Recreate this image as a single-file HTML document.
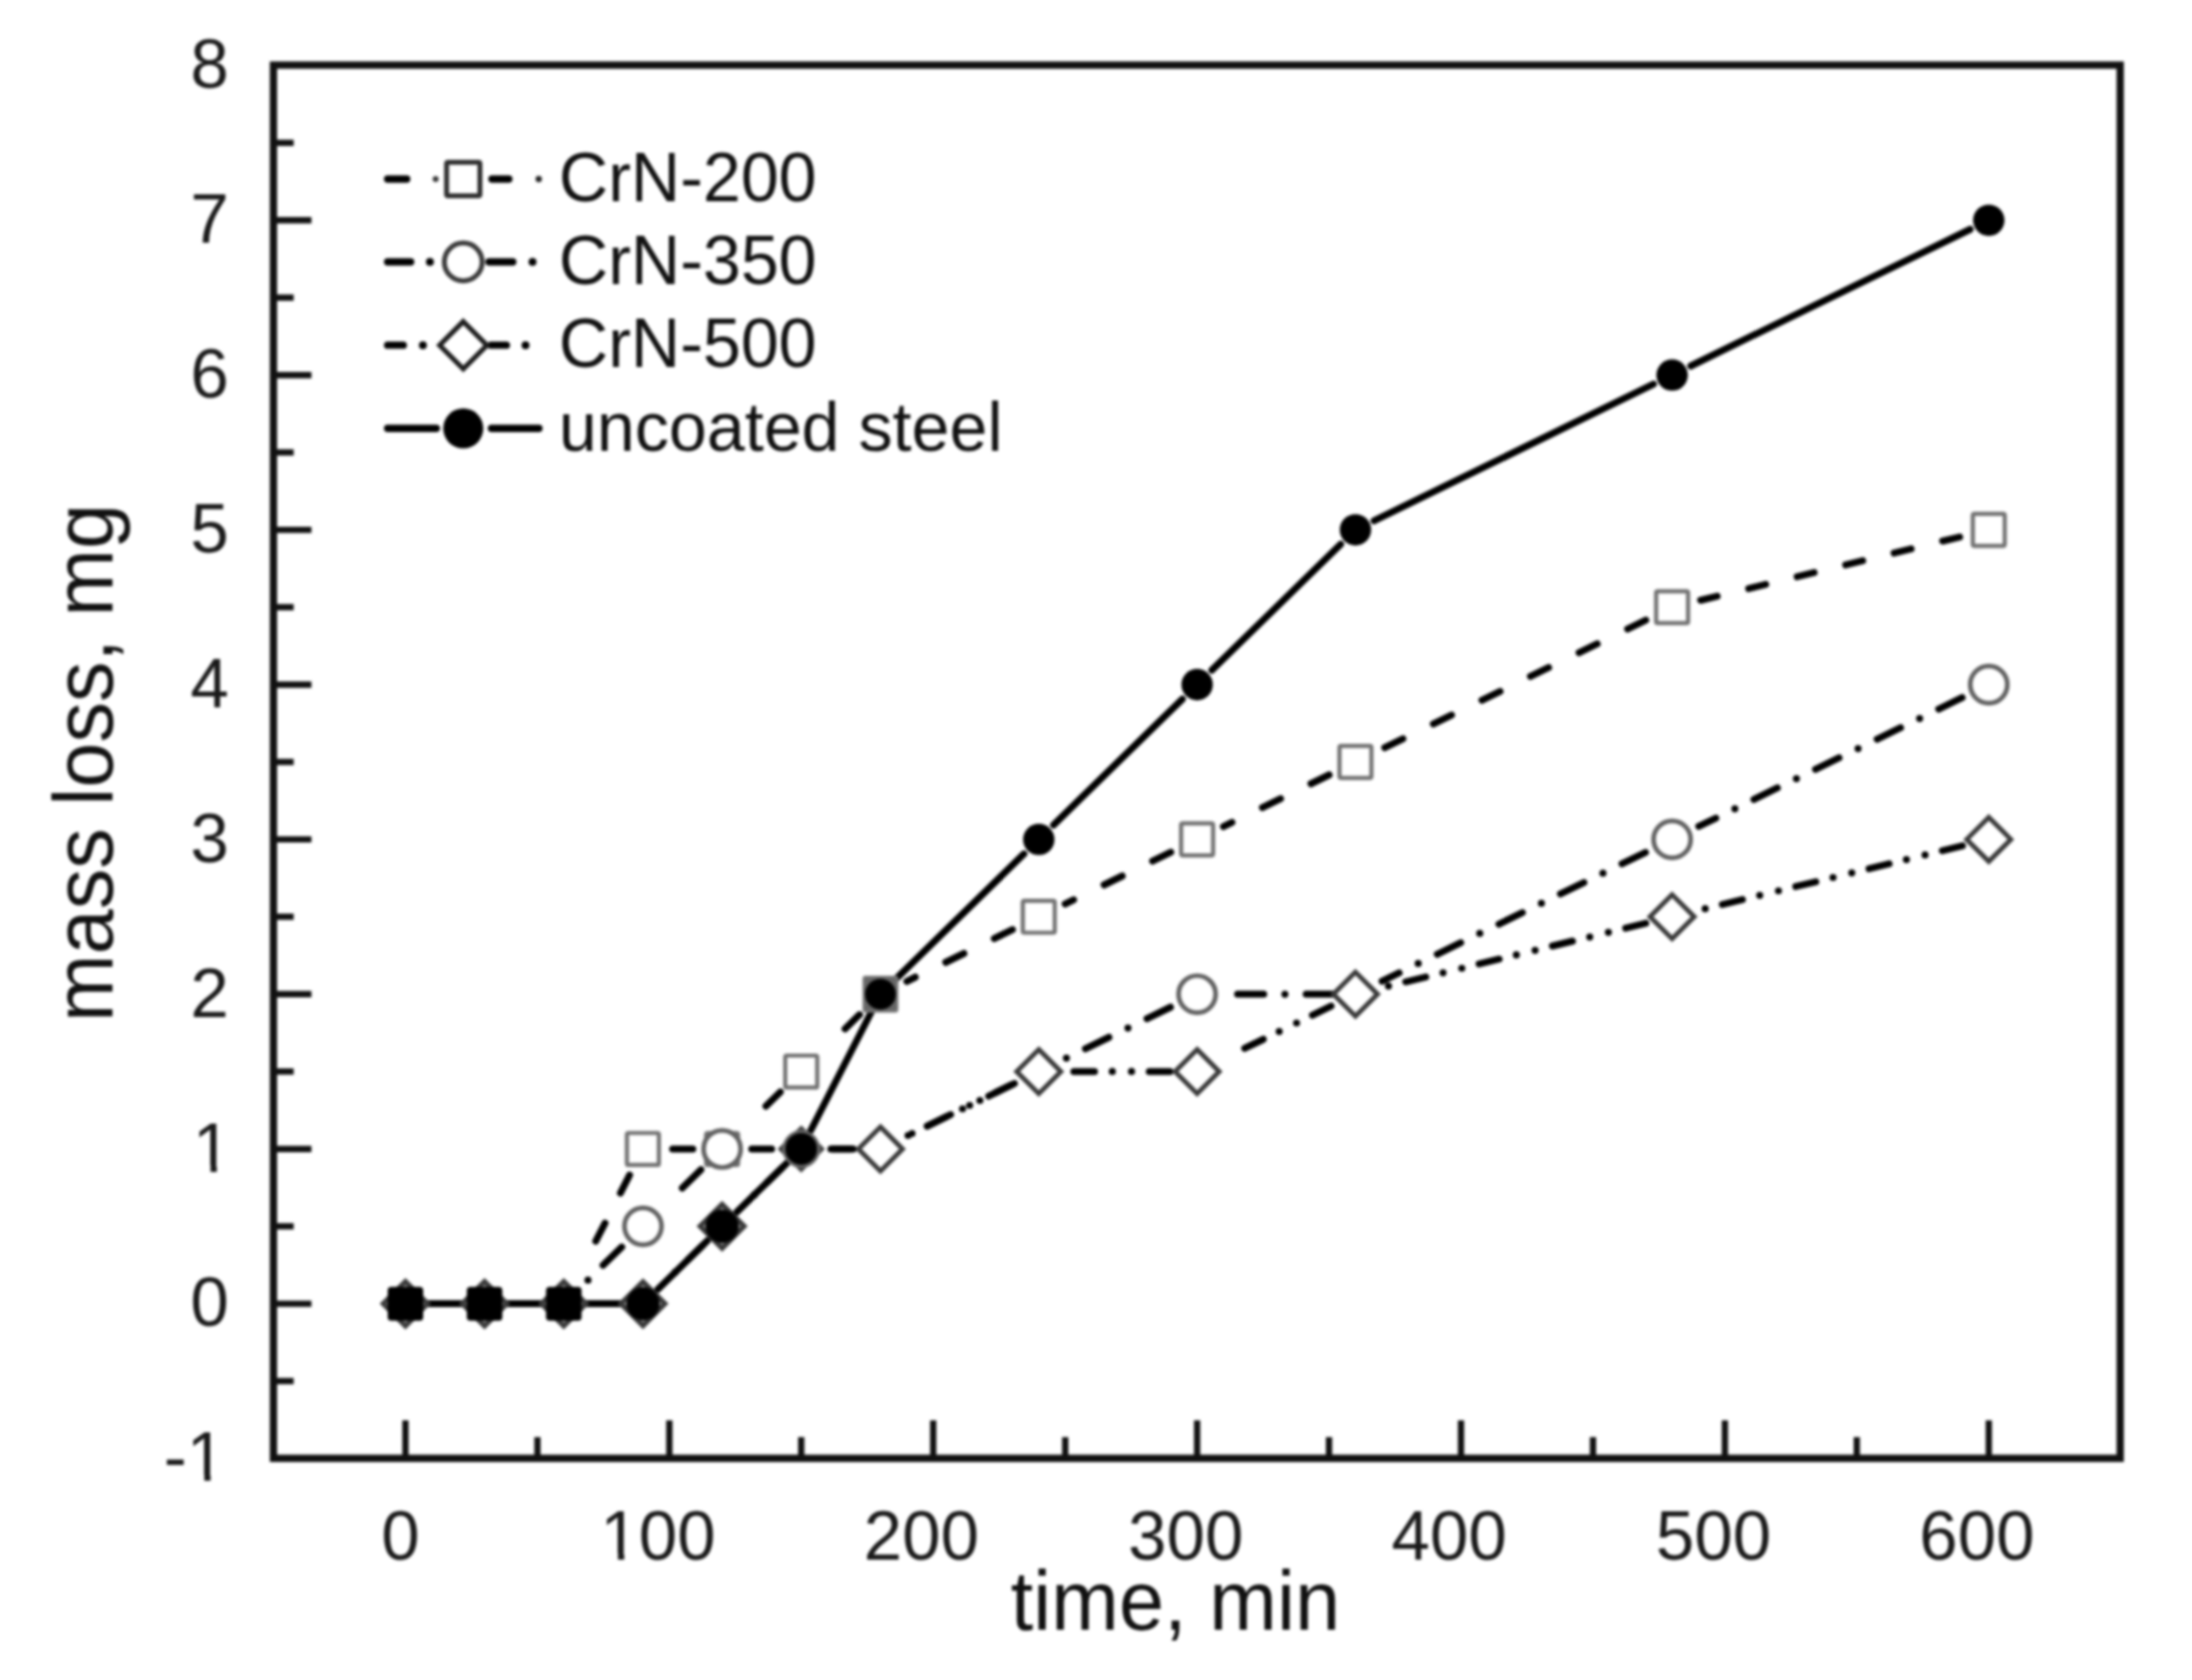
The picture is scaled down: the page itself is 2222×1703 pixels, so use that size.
<!DOCTYPE html>
<html><head><meta charset="utf-8"><title>mass loss vs time</title>
<style>html,body{margin:0;padding:0;background:#fff;overflow:hidden;} svg{display:block;filter:blur(1.4px);}</style>
</head><body>
<svg width="2222" height="1703" viewBox="0 0 2222 1703">
<rect width="2222" height="1703" fill="#fff"/>
<rect x="277.2" y="66.0" width="1872.0" height="1412.3" fill="none" stroke="#111" stroke-width="7.4"/>
<g stroke="#111" stroke-width="6.4" stroke-linecap="butt">
<line x1="277.2" y1="1321.6" x2="315.7" y2="1321.6"/>
<line x1="277.2" y1="1164.7" x2="315.7" y2="1164.7"/>
<line x1="277.2" y1="1007.8" x2="315.7" y2="1007.8"/>
<line x1="277.2" y1="850.9" x2="315.7" y2="850.9"/>
<line x1="277.2" y1="694.0" x2="315.7" y2="694.0"/>
<line x1="277.2" y1="537.1" x2="315.7" y2="537.1"/>
<line x1="277.2" y1="380.2" x2="315.7" y2="380.2"/>
<line x1="277.2" y1="223.3" x2="315.7" y2="223.3"/>
<line x1="277.2" y1="1400.0" x2="297.7" y2="1400.0"/>
<line x1="277.2" y1="1243.1" x2="297.7" y2="1243.1"/>
<line x1="277.2" y1="1086.2" x2="297.7" y2="1086.2"/>
<line x1="277.2" y1="929.3" x2="297.7" y2="929.3"/>
<line x1="277.2" y1="772.4" x2="297.7" y2="772.4"/>
<line x1="277.2" y1="615.5" x2="297.7" y2="615.5"/>
<line x1="277.2" y1="458.6" x2="297.7" y2="458.6"/>
<line x1="277.2" y1="301.7" x2="297.7" y2="301.7"/>
<line x1="277.2" y1="144.8" x2="297.7" y2="144.8"/>
<line x1="411.0" y1="1478.3" x2="411.0" y2="1439.8"/>
<line x1="678.5" y1="1478.3" x2="678.5" y2="1439.8"/>
<line x1="946.0" y1="1478.3" x2="946.0" y2="1439.8"/>
<line x1="1213.5" y1="1478.3" x2="1213.5" y2="1439.8"/>
<line x1="1481.0" y1="1478.3" x2="1481.0" y2="1439.8"/>
<line x1="1748.5" y1="1478.3" x2="1748.5" y2="1439.8"/>
<line x1="2016.0" y1="1478.3" x2="2016.0" y2="1439.8"/>
<line x1="544.8" y1="1478.3" x2="544.8" y2="1456.8"/>
<line x1="812.2" y1="1478.3" x2="812.2" y2="1456.8"/>
<line x1="1079.8" y1="1478.3" x2="1079.8" y2="1456.8"/>
<line x1="1347.2" y1="1478.3" x2="1347.2" y2="1456.8"/>
<line x1="1614.8" y1="1478.3" x2="1614.8" y2="1456.8"/>
<line x1="1882.2" y1="1478.3" x2="1882.2" y2="1456.8"/>
</g>
<g font-family="'Liberation Sans', Arial, Helvetica, sans-serif" font-size="70" fill="#1a1a1a">
<text x="232" y="1344.4" text-anchor="end">0</text>
<text x="234.5" y="1187.5" text-anchor="end">1</text>
<text x="232" y="1030.6" text-anchor="end">2</text>
<text x="232" y="873.7" text-anchor="end">3</text>
<text x="232" y="716.8" text-anchor="end">4</text>
<text x="232" y="559.9" text-anchor="end">5</text>
<text x="232" y="403.0" text-anchor="end">6</text>
<text x="232" y="246.1" text-anchor="end">7</text>
<text x="232" y="89.2" text-anchor="end">8</text>
<text x="166" y="1501.3">-1</text>
<text x="406" y="1581" text-anchor="middle">0</text>
<text x="667" y="1581" text-anchor="middle">100</text>
<text x="934" y="1581" text-anchor="middle">200</text>
<text x="1202" y="1581" text-anchor="middle">300</text>
<text x="1469" y="1581" text-anchor="middle">400</text>
<text x="1737" y="1581" text-anchor="middle">500</text>
<text x="2004" y="1581" text-anchor="middle">600</text>
</g>
<rect x="199.1" y="1181.1" width="14.3" height="7.4" fill="#fff"/><rect x="219.8" y="1181.1" width="12.5" height="7.4" fill="#fff"/>
<rect x="192.8" y="1494.9" width="14.3" height="7.4" fill="#fff"/><rect x="213.5" y="1494.9" width="12.5" height="7.4" fill="#fff"/>
<rect x="612.1" y="1574.6" width="14.3" height="7.4" fill="#fff"/><rect x="632.8" y="1574.6" width="12.5" height="7.4" fill="#fff"/>
<text font-family="'Liberation Sans', Arial, Helvetica, sans-serif" font-size="86" fill="#111" text-anchor="middle" transform="translate(1191.5,1651.5) scale(0.958,1)">time, min</text>
<text font-family="'Liberation Sans', Arial, Helvetica, sans-serif" font-size="86" fill="#111" text-anchor="middle" transform="translate(113.5,773.4) rotate(-90) scale(0.956,1)">mass loss, mg</text>
<g stroke="#000" fill="#000" stroke-width="7.0" stroke-linecap="round"><line x1="628.9" y1="1209.4" x2="638.2" y2="1191.1"/><line x1="603.9" y1="1258.2" x2="613.3" y2="1239.9"/><line x1="681.8" y1="1164.7" x2="702.3" y2="1164.7"/><line x1="776.4" y1="1121.3" x2="791.0" y2="1107.0"/><line x1="856.6" y1="1042.9" x2="871.3" y2="1028.6"/><line x1="1007.9" y1="951.4" x2="1026.3" y2="942.4"/><line x1="958.7" y1="975.5" x2="977.1" y2="966.5"/><line x1="919.2" y1="994.8" x2="927.8" y2="990.5"/><line x1="1168.4" y1="872.9" x2="1186.8" y2="863.9"/><line x1="1119.2" y1="897.0" x2="1137.6" y2="888.0"/><line x1="1079.7" y1="916.3" x2="1088.3" y2="912.1"/><line x1="1328.9" y1="794.5" x2="1347.3" y2="785.5"/><line x1="1279.7" y1="818.6" x2="1298.1" y2="809.6"/><line x1="1240.2" y1="837.9" x2="1248.8" y2="833.6"/><line x1="1649.9" y1="637.6" x2="1668.3" y2="628.6"/><line x1="1600.7" y1="661.7" x2="1619.1" y2="652.7"/><line x1="1551.4" y1="685.7" x2="1569.8" y2="676.7"/><line x1="1502.2" y1="709.8" x2="1520.6" y2="700.8"/><line x1="1453.0" y1="733.9" x2="1471.4" y2="724.9"/><line x1="1403.7" y1="757.9" x2="1422.1" y2="748.9"/><line x1="1969.2" y1="548.5" x2="1986.5" y2="544.3"/><line x1="1920.0" y1="560.6" x2="1937.3" y2="556.3"/><line x1="1870.9" y1="572.6" x2="1888.2" y2="568.3"/><line x1="1821.7" y1="584.6" x2="1839.0" y2="580.4"/><line x1="1772.6" y1="596.6" x2="1789.9" y2="592.4"/><line x1="1723.9" y1="608.5" x2="1740.7" y2="604.4"/></g>
<g stroke="#000" fill="#000" stroke-width="7.0" stroke-linecap="round"><line x1="611.3" y1="1282.6" x2="630.3" y2="1264.1"/><circle cx="596.0" cy="1297.7" r="3.6" stroke="none"/><line x1="691.6" y1="1204.2" x2="710.5" y2="1185.7"/><line x1="762.0" y1="1164.7" x2="782.2" y2="1164.7"/><line x1="842.2" y1="1164.7" x2="862.5" y2="1164.7"/><line x1="1002.2" y1="1111.1" x2="1026.0" y2="1099.4"/><circle cx="982.9" cy="1120.5" r="3.6" stroke="none"/><line x1="939.8" y1="1141.6" x2="963.6" y2="1129.9"/><circle cx="920.5" cy="1151.0" r="3.6" stroke="none"/><line x1="1162.7" y1="1032.6" x2="1186.5" y2="1021.0"/><circle cx="1143.4" cy="1042.1" r="3.6" stroke="none"/><line x1="1100.3" y1="1063.1" x2="1124.1" y2="1051.5"/><circle cx="1081.0" cy="1072.6" r="3.6" stroke="none"/><line x1="1324.0" y1="1007.8" x2="1350.5" y2="1007.8"/><circle cx="1302.5" cy="1007.8" r="3.6" stroke="none"/><line x1="1254.5" y1="1007.8" x2="1281.0" y2="1007.8"/><line x1="1644.2" y1="875.7" x2="1668.0" y2="864.1"/><circle cx="1624.9" cy="885.2" r="3.6" stroke="none"/><line x1="1581.8" y1="906.2" x2="1605.6" y2="894.6"/><circle cx="1562.5" cy="915.7" r="3.6" stroke="none"/><line x1="1519.4" y1="936.8" x2="1543.2" y2="925.1"/><circle cx="1500.0" cy="946.2" r="3.6" stroke="none"/><line x1="1456.9" y1="967.3" x2="1480.7" y2="955.6"/><circle cx="1437.6" cy="976.7" r="3.6" stroke="none"/><line x1="1401.0" y1="994.6" x2="1418.3" y2="986.2"/><line x1="1965.2" y1="718.8" x2="1989.0" y2="707.2"/><circle cx="1945.9" cy="728.3" r="3.6" stroke="none"/><line x1="1902.8" y1="749.3" x2="1926.6" y2="737.7"/><circle cx="1883.5" cy="758.8" r="3.6" stroke="none"/><line x1="1840.4" y1="779.9" x2="1864.2" y2="768.2"/><circle cx="1821.0" cy="789.3" r="3.6" stroke="none"/><line x1="1777.9" y1="810.4" x2="1801.7" y2="798.7"/><circle cx="1758.6" cy="819.8" r="3.6" stroke="none"/><line x1="1722.0" y1="837.7" x2="1739.3" y2="829.3"/></g>
<g stroke="#000" fill="#000" stroke-width="7.0" stroke-linecap="round"><line x1="697.3" y1="1277.1" x2="712.3" y2="1262.4"/><circle cx="684.4" cy="1289.6" r="3.6" stroke="none"/><line x1="777.6" y1="1198.6" x2="792.6" y2="1183.9"/><circle cx="764.7" cy="1211.2" r="3.6" stroke="none"/><line x1="844.0" y1="1164.7" x2="865.0" y2="1164.7"/><line x1="1009.4" y1="1107.5" x2="1028.3" y2="1098.3"/><circle cx="993.3" cy="1115.5" r="3.6" stroke="none"/><circle cx="975.7" cy="1124.0" r="3.6" stroke="none"/><line x1="940.7" y1="1141.1" x2="959.6" y2="1131.9"/><circle cx="924.5" cy="1149.0" r="3.6" stroke="none"/><line x1="1165.0" y1="1086.2" x2="1186.0" y2="1086.2"/><circle cx="1147.0" cy="1086.2" r="3.6" stroke="none"/><circle cx="1127.5" cy="1086.2" r="3.6" stroke="none"/><line x1="1088.5" y1="1086.2" x2="1109.5" y2="1086.2"/><line x1="1330.4" y1="1029.1" x2="1349.3" y2="1019.9"/><circle cx="1314.3" cy="1037.0" r="3.6" stroke="none"/><circle cx="1296.7" cy="1045.6" r="3.6" stroke="none"/><line x1="1261.7" y1="1062.7" x2="1280.6" y2="1053.5"/><line x1="1647.9" y1="940.9" x2="1668.3" y2="935.9"/><circle cx="1630.4" cy="945.1" r="3.6" stroke="none"/><circle cx="1611.5" cy="949.8" r="3.6" stroke="none"/><line x1="1573.6" y1="959.0" x2="1594.0" y2="954.0"/><circle cx="1556.1" cy="963.3" r="3.6" stroke="none"/><circle cx="1537.1" cy="967.9" r="3.6" stroke="none"/><line x1="1499.3" y1="977.2" x2="1519.7" y2="972.2"/><circle cx="1481.8" cy="981.5" r="3.6" stroke="none"/><circle cx="1462.8" cy="986.1" r="3.6" stroke="none"/><line x1="1424.9" y1="995.3" x2="1445.3" y2="990.4"/><circle cx="1407.5" cy="999.6" r="3.6" stroke="none"/><line x1="1968.9" y1="862.4" x2="1989.3" y2="857.4"/><circle cx="1951.4" cy="866.7" r="3.6" stroke="none"/><circle cx="1932.5" cy="871.3" r="3.6" stroke="none"/><line x1="1894.6" y1="880.6" x2="1915.0" y2="875.6"/><circle cx="1877.1" cy="884.8" r="3.6" stroke="none"/><circle cx="1858.1" cy="889.5" r="3.6" stroke="none"/><line x1="1820.3" y1="898.7" x2="1840.7" y2="893.8"/><circle cx="1802.8" cy="903.0" r="3.6" stroke="none"/><circle cx="1783.8" cy="907.6" r="3.6" stroke="none"/><line x1="1745.9" y1="916.9" x2="1766.3" y2="911.9"/><circle cx="1728.5" cy="921.2" r="3.6" stroke="none"/></g>
<g stroke="#000" stroke-width="7.0" stroke-linecap="round"><line x1="432.0" y1="1321.6" x2="470.2" y2="1321.6"/><line x1="512.2" y1="1321.6" x2="550.5" y2="1321.6"/><line x1="592.5" y1="1321.6" x2="630.8" y2="1321.6"/><line x1="666.8" y1="1306.9" x2="717.0" y2="1257.8"/><line x1="747.0" y1="1228.5" x2="797.2" y2="1179.4"/><line x1="821.8" y1="1146.0" x2="882.9" y2="1026.5"/><line x1="907.5" y1="993.1" x2="1038.0" y2="865.6"/><line x1="1068.0" y1="836.2" x2="1198.5" y2="708.7"/><line x1="1228.5" y1="679.3" x2="1359.0" y2="551.8"/><line x1="1392.9" y1="527.9" x2="1676.1" y2="389.4"/><line x1="1713.9" y1="371.0" x2="1997.1" y2="232.5"/></g>
<rect x="635.5" y="1148.5" width="32.4" height="32.4" rx="1.5" fill="#fff" stroke="#717171" stroke-width="4.2"/>
<rect x="715.8" y="1148.5" width="32.4" height="32.4" rx="1.5" fill="#fff" stroke="#717171" stroke-width="4.2"/>
<rect x="796.0" y="1070.0" width="32.4" height="32.4" rx="1.5" fill="#fff" stroke="#717171" stroke-width="4.2"/>
<rect x="1036.8" y="913.1" width="32.4" height="32.4" rx="1.5" fill="#fff" stroke="#717171" stroke-width="4.2"/>
<rect x="1197.3" y="834.7" width="32.4" height="32.4" rx="1.5" fill="#fff" stroke="#717171" stroke-width="4.2"/>
<rect x="1357.8" y="756.2" width="32.4" height="32.4" rx="1.5" fill="#fff" stroke="#717171" stroke-width="4.2"/>
<rect x="1678.8" y="599.3" width="32.4" height="32.4" rx="1.5" fill="#fff" stroke="#717171" stroke-width="4.2"/>
<rect x="1999.8" y="520.9" width="32.4" height="32.4" rx="1.5" fill="#fff" stroke="#717171" stroke-width="4.2"/>
<circle cx="651.8" cy="1243.1" r="18.8" fill="#fff" stroke="#606060" stroke-width="4.7"/>
<circle cx="732.0" cy="1164.7" r="18.8" fill="#fff" stroke="#606060" stroke-width="4.7"/>
<circle cx="1213.5" cy="1007.8" r="18.8" fill="#fff" stroke="#606060" stroke-width="4.7"/>
<circle cx="1695.0" cy="850.9" r="18.8" fill="#fff" stroke="#606060" stroke-width="4.7"/>
<circle cx="2016.0" cy="694.0" r="18.8" fill="#fff" stroke="#606060" stroke-width="4.7"/>
<path d="M892.5,1142.3 L914.9,1164.7 L892.5,1187.1 L870.1,1164.7 Z" fill="#fff" stroke="#3a3a3a" stroke-width="4.8" stroke-linejoin="miter"/>
<path d="M1053.0,1063.8 L1075.4,1086.2 L1053.0,1108.7 L1030.6,1086.2 Z" fill="#fff" stroke="#3a3a3a" stroke-width="4.8" stroke-linejoin="miter"/>
<path d="M1213.5,1063.8 L1235.9,1086.2 L1213.5,1108.7 L1191.1,1086.2 Z" fill="#fff" stroke="#3a3a3a" stroke-width="4.8" stroke-linejoin="miter"/>
<path d="M1374.0,985.4 L1396.4,1007.8 L1374.0,1030.2 L1351.6,1007.8 Z" fill="#fff" stroke="#3a3a3a" stroke-width="4.8" stroke-linejoin="miter"/>
<path d="M1695.0,906.9 L1717.4,929.3 L1695.0,951.7 L1672.6,929.3 Z" fill="#fff" stroke="#3a3a3a" stroke-width="4.8" stroke-linejoin="miter"/>
<path d="M2016.0,828.5 L2038.4,850.9 L2016.0,873.3 L1993.6,850.9 Z" fill="#fff" stroke="#3a3a3a" stroke-width="4.8" stroke-linejoin="miter"/>
<circle cx="1053.0" cy="850.9" r="15.9" fill="#000"/>
<circle cx="1213.5" cy="694.0" r="15.9" fill="#000"/>
<circle cx="1374.0" cy="537.1" r="15.9" fill="#000"/>
<circle cx="1695.0" cy="380.2" r="15.9" fill="#000"/>
<circle cx="2016.0" cy="223.3" r="15.9" fill="#000"/>
<path d="M411.0,1299.0 L433.6,1321.6 L411.0,1344.2 L388.4,1321.6 Z" fill="#b0b0b0" stroke="#3c3c3c" stroke-width="5"/>
<rect x="393.0" y="1304.4" width="36" height="34.4" rx="3.5" fill="#000"/>
<path d="M491.2,1299.0 L513.9,1321.6 L491.2,1344.2 L468.6,1321.6 Z" fill="#b0b0b0" stroke="#3c3c3c" stroke-width="5"/>
<rect x="473.2" y="1304.4" width="36" height="34.4" rx="3.5" fill="#000"/>
<path d="M571.5,1299.0 L594.1,1321.6 L571.5,1344.2 L548.9,1321.6 Z" fill="#b0b0b0" stroke="#3c3c3c" stroke-width="5"/>
<rect x="553.5" y="1304.4" width="36" height="34.4" rx="3.5" fill="#000"/>
<path d="M651.8,1299.2 L674.1,1321.6 L651.8,1344.0 L629.4,1321.6 Z" fill="#b0b0b0" stroke="#3a3a3a" stroke-width="5"/>
<circle cx="651.8" cy="1321.6" r="16.8" fill="#000"/>
<path d="M732.0,1220.7 L754.4,1243.1 L732.0,1265.5 L709.6,1243.1 Z" fill="#b0b0b0" stroke="#3a3a3a" stroke-width="5"/>
<circle cx="732.0" cy="1243.1" r="16.8" fill="#000"/>
<path d="M812.2,1143.9 L833.0,1164.7 L812.2,1185.5 L791.5,1164.7 Z" fill="#b0b0b0" stroke="#404040" stroke-width="4.6"/>
<circle cx="812.2" cy="1164.7" r="17.6" fill="#111" stroke="#666" stroke-width="3"/>
<circle cx="812.2" cy="1164.7" r="15.8" fill="#000"/>
<rect x="875.3" y="990.0" width="34.4" height="35.6" rx="2" fill="#666" stroke="#7a7a7a" stroke-width="2"/>
<circle cx="892.5" cy="1007.8" r="15.6" fill="#000"/>
<line x1="392.9" y1="181.5" x2="412.3" y2="181.5" stroke="#000" stroke-width="7.4" stroke-linecap="round"/>
<line x1="498.7" y1="181.5" x2="515.8" y2="181.5" stroke="#000" stroke-width="7.4" stroke-linecap="round"/>
<circle cx="441.6" cy="181.5" r="3.0" fill="#333"/>
<circle cx="546.1" cy="181.5" r="3.2" fill="#222"/>
<line x1="392.9" y1="265.5" x2="416.3" y2="265.5" stroke="#000" stroke-width="7.4" stroke-linecap="round"/>
<line x1="495.7" y1="265.5" x2="519.8" y2="265.5" stroke="#000" stroke-width="7.4" stroke-linecap="round"/>
<circle cx="435.8" cy="265.5" r="4.0" fill="#000"/>
<circle cx="539.8" cy="265.5" r="4.0" fill="#000"/>
<line x1="392.9" y1="349.9" x2="408.8" y2="349.9" stroke="#000" stroke-width="7.4" stroke-linecap="round"/>
<line x1="497.7" y1="349.9" x2="513.3" y2="349.9" stroke="#000" stroke-width="7.4" stroke-linecap="round"/>
<circle cx="428.7" cy="349.9" r="4.0" fill="#000"/>
<circle cx="532.7" cy="349.9" r="4.0" fill="#000"/>
<line x1="392.9" y1="434.3" x2="442.3" y2="434.3" stroke="#000" stroke-width="7.4" stroke-linecap="round"/>
<line x1="498.2" y1="434.3" x2="546.3" y2="434.3" stroke="#000" stroke-width="7.4" stroke-linecap="round"/>
<rect x="452.7" y="164.6" width="33.8" height="33.8" rx="1.5" fill="#fff" stroke="#2e2e2e" stroke-width="5"/>
<circle cx="469.6" cy="265.5" r="19.2" fill="#fff" stroke="#3a3a3a" stroke-width="5"/>
<path d="M469.6,325.9 L493.6,349.9 L469.6,373.9 L445.6,349.9 Z" fill="#fff" stroke="#1e1e1e" stroke-width="5"/>
<circle cx="469.6" cy="434.3" r="20.3" fill="#000"/>
<g font-family="'Liberation Sans', Arial, Helvetica, sans-serif" font-size="70" fill="#111">
<text transform="translate(566.5,203.8) scale(0.988,1)">CrN-200</text>
<text transform="translate(566.5,288) scale(0.988,1)">CrN-350</text>
<text transform="translate(566.5,372.4) scale(0.988,1)">CrN-500</text>
<text transform="translate(566.5,456.7) scale(0.988,1)">uncoated steel</text>
</g>
</svg>
</body></html>
